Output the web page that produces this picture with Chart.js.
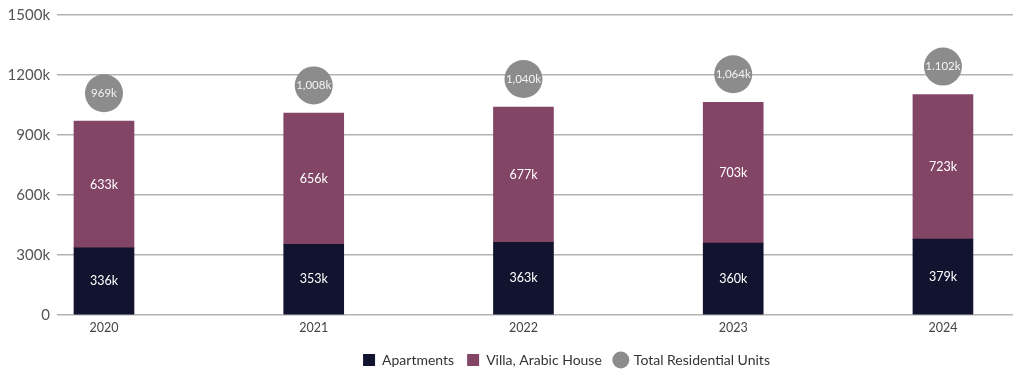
<!DOCTYPE html>
<html><head><meta charset="utf-8">
<script src="https://cdn.jsdelivr.net/npm/chart.js@4.4.1/dist/chart.umd.min.js"></script>
<style>html,body{margin:0;padding:0;background:#fff}#wrap{width:1024px;height:380px;position:relative}</style>
</head><body><div id="wrap"><canvas id="c"></canvas></div>
<script>
const categories = ['2020', '2021', '2022', '2023', '2024'];
const apartments = [336, 353, 363, 360, 379];
const villas = [633, 656, 677, 703, 723];
const totals = [969, 1008, 1040, 1064, 1102];
const totalLabels = ['969k', '1,008k', '1,040k', '1,064k', '1.102k'];
const seriesNames = ['Apartments', 'Villa, Arabic House', 'Total Residential Units'];

const FONT = 'Lato, "Open Sans", sans-serif';
const CIRCLE_LIFT = 28;
const LEGEND_SHIFT = 60;

const toPoints = arr => arr.map((v, i) => ({x: i, y: v}));

const liftPlugin = {
  id: 'lift',
  beforeDatasetDraw(chart, args) {
    if (args.index === 2) { chart.ctx.save(); chart.ctx.translate(0, -CIRCLE_LIFT); }
  },
  afterDatasetDraw(chart, args) {
    if (args.index === 2) { chart.ctx.restore(); }
  }
};

const legendShiftPlugin = {
  id: 'legendShift',
  afterLayout(chart) {
    if (chart.legend) {
      chart.legend.left += LEGEND_SHIFT;
      chart.legend.right += LEGEND_SHIFT;
    }
  }
};

const labelPlugin = {
  id: 'vlabels',
  afterDatasetsDraw(chart) {
    const ctx = chart.ctx;
    ctx.save();
    ctx.textAlign = 'center';
    ctx.textBaseline = 'middle';
    [0, 1].forEach(di => {
      const meta = chart.getDatasetMeta(di);
      const vals = chart.data.datasets[di].data;
      meta.data.forEach((el, i) => {
        ctx.fillStyle = '#ffffff';
        ctx.font = '12.5px ' + FONT;
        ctx.fillText(vals[i].y + 'k', el.x, (el.y + el.base) / 2);
      });
    });
    const meta = chart.getDatasetMeta(2);
    meta.data.forEach((el, i) => {
      ctx.fillStyle = '#f4f4f4';
      ctx.font = '11.5px ' + FONT;
      ctx.fillText(totalLabels[i], el.x, el.y - CIRCLE_LIFT);
    });
    ctx.restore();
  }
};

new Chart(document.getElementById('c'), {
  type: 'bar',
  data: {
    datasets: [
      {label: seriesNames[0], data: toPoints(apartments), backgroundColor: '#12142f', barThickness: 60, pointStyle: 'rect', stack: 's'},
      {label: seriesNames[1], data: toPoints(villas), backgroundColor: '#834566', barThickness: 60, pointStyle: 'rect', stack: 's'},
      {label: seriesNames[2], type: 'scatter', data: toPoints(totals), backgroundColor: '#8c8c8c', borderWidth: 0,
        pointRadius: 19, pointHoverRadius: 19, pointStyle: 'circle', clip: false, stack: 't'}
    ]
  },
  options: {
    responsive: true,
    maintainAspectRatio: false,
    animation: false,
    devicePixelRatio: 1,
    layout: {autoPadding: false, padding: {left: 0, right: 11, top: 15, bottom: 3}},
    plugins: {
      legend: {
        position: 'bottom',
        labels: {usePointStyle: true, boxHeight: 12, boxWidth: 12, padding: 13,
          color: '#333333', font: {family: FONT, size: 14}}
      },
      tooltip: {enabled: false}
    },
    scales: {
      x: {
        type: 'linear', min: -0.224, max: 4.334, stacked: true, offset: false,
        grid: {display: false, drawTicks: false, offset: false}, border: {display: false},
        ticks: {stepSize: 1, autoSkip: false, includeBounds: false, maxRotation: 0, padding: 5, color: '#444444',
          font: {family: FONT, size: 12.5},
          callback: v => (Number.isInteger(v) && categories[v] !== undefined) ? categories[v] : null}
      },
      y: {
        stacked: true, min: 0, max: 1500,
        afterFit: s => { s.width = 57; },
        grid: {color: '#b3b3b3', lineWidth: 1.5, drawTicks: false},
        border: {display: false},
        ticks: {stepSize: 300, padding: 7, color: '#555555', font: {family: FONT, size: 15, lineHeight: 1},
          callback: v => v === 0 ? '0' : v + 'k'}
      }
    }
  },
  plugins: [liftPlugin, legendShiftPlugin, labelPlugin]
});
</script>
</body></html>
